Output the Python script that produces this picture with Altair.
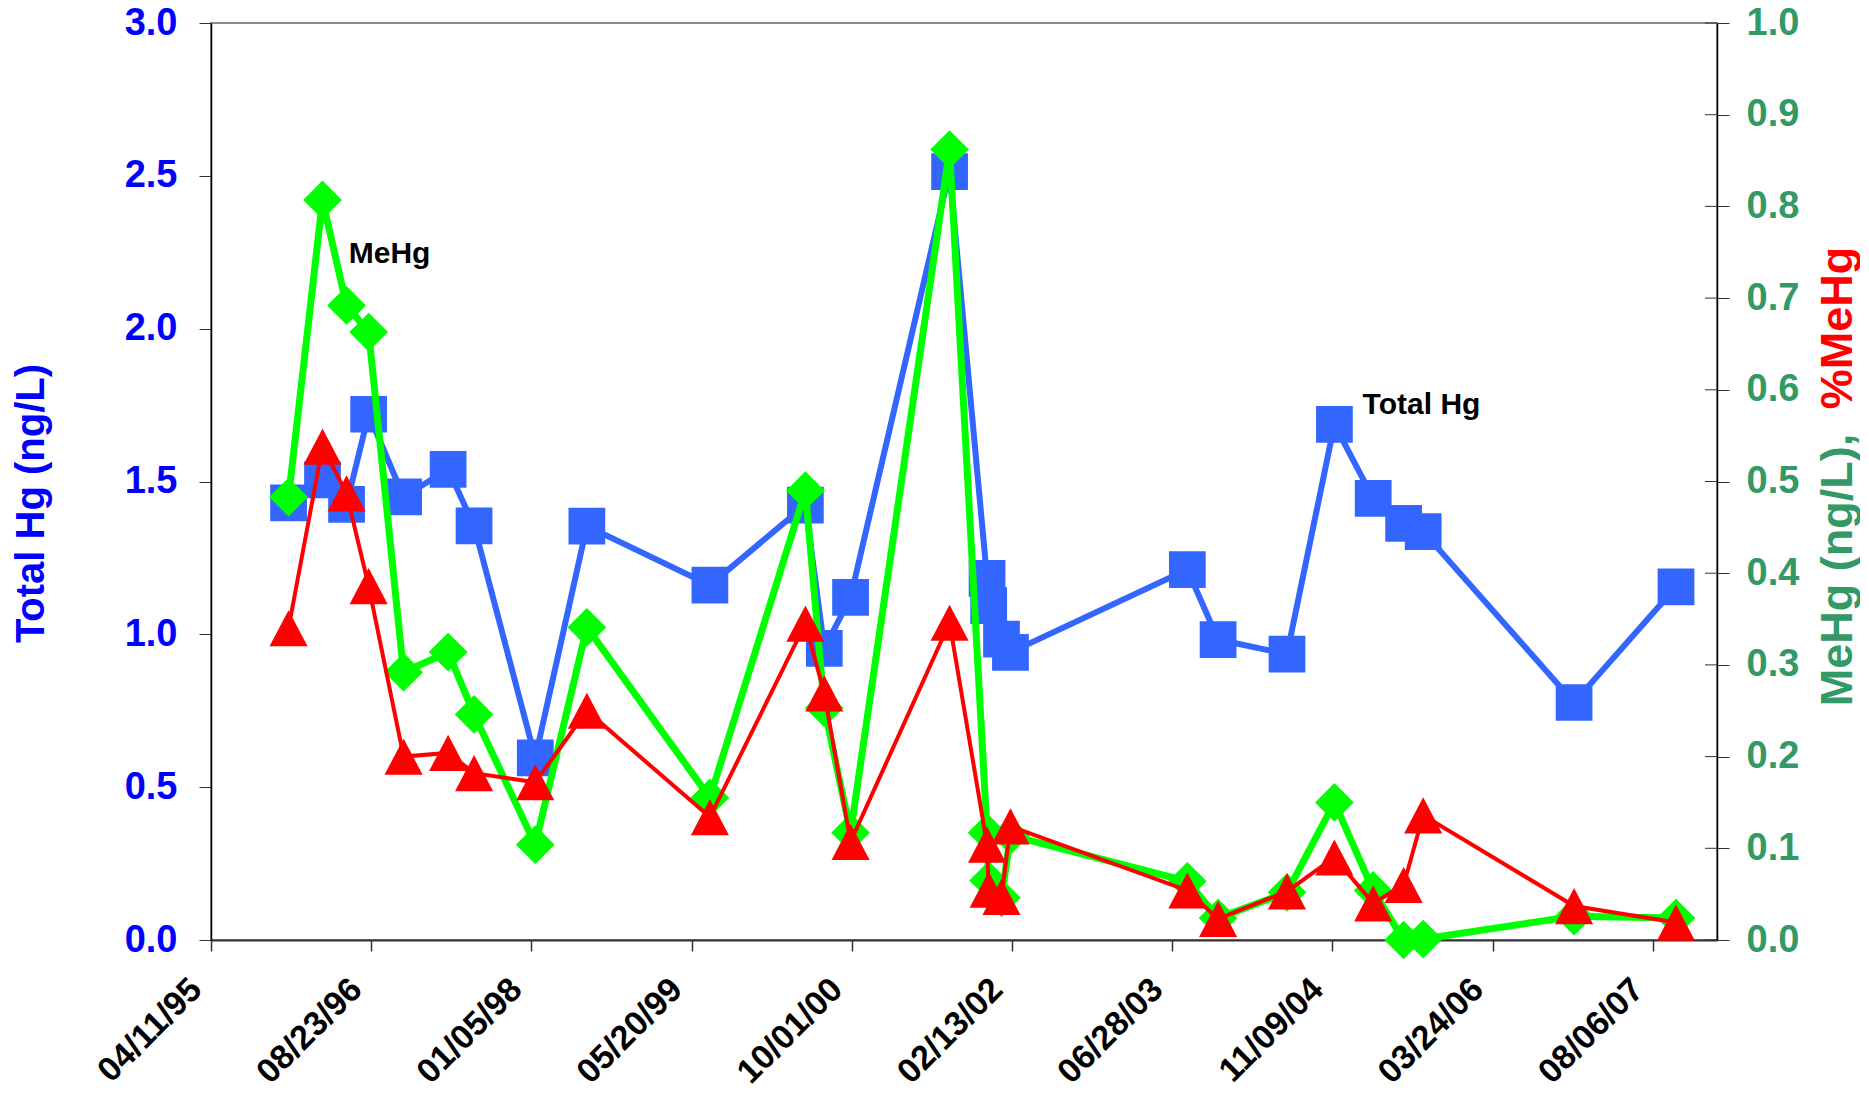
import json
import altair as alt
import pandas as pd

# ---------------- data ----------------
dates = ["1995-12-09", "1996-03-24", "1996-06-07", "1996-08-15", "1996-12-02",
         "1997-04-20", "1997-07-10", "1998-01-17", "1998-06-27", "1999-07-16",
         "2000-05-09", "2000-07-07", "2000-09-27", "2001-08-02", "2001-11-27",
         "2001-12-02", "2002-01-11", "2002-02-08", "2003-08-14", "2003-11-18",
         "2004-06-20", "2004-11-15", "2005-03-16", "2005-06-19", "2005-08-19",
         "2006-12-03", "2007-10-17"]
total_hg = [1.43, 1.505, 1.425, 1.72, 1.45, 1.54, 1.355, 0.596, 1.354, 1.161,
            1.423, 0.954, 1.121, 2.514, 1.183, 1.094, 0.984, 0.941, 1.212, 0.983,
            0.935, 1.687, 1.445, 1.363, 1.336, 0.777, 1.155]
mehg = [0.483, 0.807, 0.692, 0.663, 0.292, 0.314, 0.246, 0.104, 0.341, 0.155,
        0.490, 0.253, 0.117, 0.862, 0.117, 0.065, 0.046, 0.114, 0.064, 0.024,
        0.052, 0.150, 0.054, 0.0, 0.001, 0.026, 0.024]
pct_mehg = [0.340, 0.538, 0.487, 0.386, 0.200, 0.204, 0.182, 0.172, 0.250, 0.134,
            0.345, 0.269, 0.107, 0.346, 0.104, 0.055, 0.047, 0.124, 0.054, 0.023,
            0.053, 0.090, 0.040, 0.060, 0.136, 0.037, 0.019]

axis_start = "1995-04-11"
tick_labels = ["04/11/95", "08/23/96", "01/05/98", "05/20/99", "10/01/00",
               "02/13/02", "06/28/03", "11/09/04", "03/24/06", "08/06/07"]
left_ticks = [0.0, 0.5, 1.0, 1.5, 2.0, 2.5, 3.0]
right_ticks = [0.0, 0.1, 0.2, 0.3, 0.4, 0.5, 0.6, 0.7, 0.8, 0.9, 1.0]

ann_mehg = {"date": "1996-06-14", "value": 0.748, "label": "MeHg"}
ann_thg = {"date": "2005-02-11", "value": 1.75, "label": "Total Hg"}

# ---------------- build tables ----------------
t0 = pd.Timestamp(axis_start)
df = pd.DataFrame({"date": dates, "thg": total_hg, "mehg": mehg, "pct": pct_mehg})
df["day"] = (pd.to_datetime(df["date"]) - t0).dt.days

a1 = pd.DataFrame([ann_mehg])
a1["day"] = (pd.to_datetime(a1["date"]) - t0).dt.days
a2 = pd.DataFrame([ann_thg])
a2["day"] = (pd.to_datetime(a2["date"]) - t0).dt.days
rt = pd.DataFrame({"v": right_ticks, "day": [0] * len(right_ticks)})

W, H = 1506, 917
FONT = "Liberation Sans"
BLUE = "#3366FF"
GREEN = "#00FF00"
RED = "#FF0000"
AXGREEN = "#339966"
AXBLUE = "#0000FF"

x_scale = alt.Scale(domain=[0, 4700], nice=False, zero=False)
x_axis = alt.Axis(
    values=[i * 500 for i in range(len(tick_labels))],
    labelExpr=json.dumps(tick_labels) + "[round(datum.value / 500)]",
    labelAngle=315, labelAlign="right", labelBaseline="middle",
    labelFont=FONT, labelFontSize=34, labelFontWeight="bold",
    labelColor="#000000", labelPadding=33, labelOffset=-15,
    tickSize=11, tickColor="#333333", tickWidth=1.5,
    domainColor="#333333", domainWidth=2, grid=False, title=None,
    labelOverlap=False, labelBound=False,
)
x_enc = alt.X("day:Q", scale=x_scale, axis=x_axis)

left_scale = alt.Scale(domain=[0, 3], nice=False, zero=True)
right_scale = alt.Scale(domain=[0, 1], nice=False, zero=True)

left_axis = alt.Axis(
    orient="left", values=left_ticks, format=".1f",
    labelFont=FONT, labelFontSize=38, labelFontWeight="bold",
    labelColor=AXBLUE, labelPadding=22, tickSize=12, tickColor="#333333",
    domainColor="#000000", domainWidth=1.5, grid=False,
    title="Total Hg (ng/L)", titleFont=FONT, titleFontSize=40,
    titleFontWeight="bold", titleColor=AXBLUE, titleX=-180, titleY=480,
    titleAngle=270, titleAlign="center", titleBaseline="middle",
)
right_axis = alt.Axis(
    orient="right", values=right_ticks, format=".1f",
    labelFont=FONT, labelFontSize=38, labelFontWeight="bold",
    labelColor=AXGREEN, labelPadding=17, tickSize=12, tickColor="#333333",
    domainColor="#000000", domainWidth=1.5, grid=False, title=None,
)

# ---------- left (Total Hg) ----------
blue_line = alt.Chart(df).mark_line(color=BLUE, strokeWidth=6).encode(
    x=x_enc, y=alt.Y("thg:Q", scale=left_scale, axis=left_axis))
blue_pts = alt.Chart(df).mark_point(shape="square", filled=True, size=1350,
                                    color=BLUE, opacity=1).encode(
    x=x_enc, y=alt.Y("thg:Q", scale=left_scale, axis=left_axis))
thg_text = alt.Chart(a2).mark_text(align="left", baseline="middle", font=FONT,
                                   fontSize=30, fontWeight="bold", color="#000000").encode(
    x=x_enc, y=alt.Y("value:Q", scale=left_scale, axis=left_axis), text="label:N")
left_layer = alt.layer(blue_line, blue_pts, thg_text)

# ---------- right (MeHg, %MeHg) ----------
green_line = alt.Chart(df).mark_line(color=GREEN, strokeWidth=7).encode(
    x=x_enc, y=alt.Y("mehg:Q", scale=right_scale, axis=right_axis))
green_pts = alt.Chart(df).mark_point(shape="diamond", filled=True, size=1500,
                                     color=GREEN, opacity=1).encode(
    x=x_enc, y=alt.Y("mehg:Q", scale=right_scale, axis=right_axis))
red_line = alt.Chart(df).mark_line(color=RED, strokeWidth=4).encode(
    x=x_enc, y=alt.Y("pct:Q", scale=right_scale, axis=right_axis))
red_pts = alt.Chart(df).mark_point(shape="M0,-0.95L-1,0.95L1,0.95Z", filled=True, size=1450,
                                   color=RED, opacity=1).encode(
    x=x_enc, y=alt.Y("pct:Q", scale=right_scale, axis=right_axis))
mehg_text = alt.Chart(a1).mark_text(align="left", baseline="middle", font=FONT,
                                    fontSize=30, fontWeight="bold", color="#000000").encode(
    x=x_enc, y=alt.Y("value:Q", scale=right_scale, axis=right_axis), text="label:N")
# inner half of the crossing ticks on the right axis
inner_ticks = alt.Chart(rt).mark_rule(color="#333333", strokeWidth=1).encode(
    x=alt.value(W - 12), x2=alt.value(W),
    y=alt.Y("v:Q", scale=right_scale, axis=right_axis))

t_green = alt.Chart(pd.DataFrame({"t": ["MeHg (ng/L),"]})).mark_text(
    angle=270, align="center", baseline="middle", font=FONT, fontSize=45,
    fontWeight="bold", color=AXGREEN).encode(
    x=alt.value(W + 121), y=alt.value(547), text="t:N")
t_red = alt.Chart(pd.DataFrame({"t": ["%MeHg"]})).mark_text(
    angle=270, align="center", baseline="middle", font=FONT, fontSize=45,
    fontWeight="bold", color=RED).encode(
    x=alt.value(W + 121), y=alt.value(305), text="t:N")

right_layer = alt.layer(green_line, green_pts, red_line, red_pts, mehg_text,
                        inner_ticks, t_green, t_red)

chart = alt.layer(left_layer, right_layer).resolve_scale(y="independent").properties(
    width=W, height=H,
    autosize=alt.AutoSizeParams(type="none"),
    padding={"left": 203, "top": 15, "right": 143, "bottom": 146},
).configure_view(stroke="#8C8C8C", strokeWidth=2)

chart.save("out.html", embed_options={"renderer": "svg", "actions": False})
